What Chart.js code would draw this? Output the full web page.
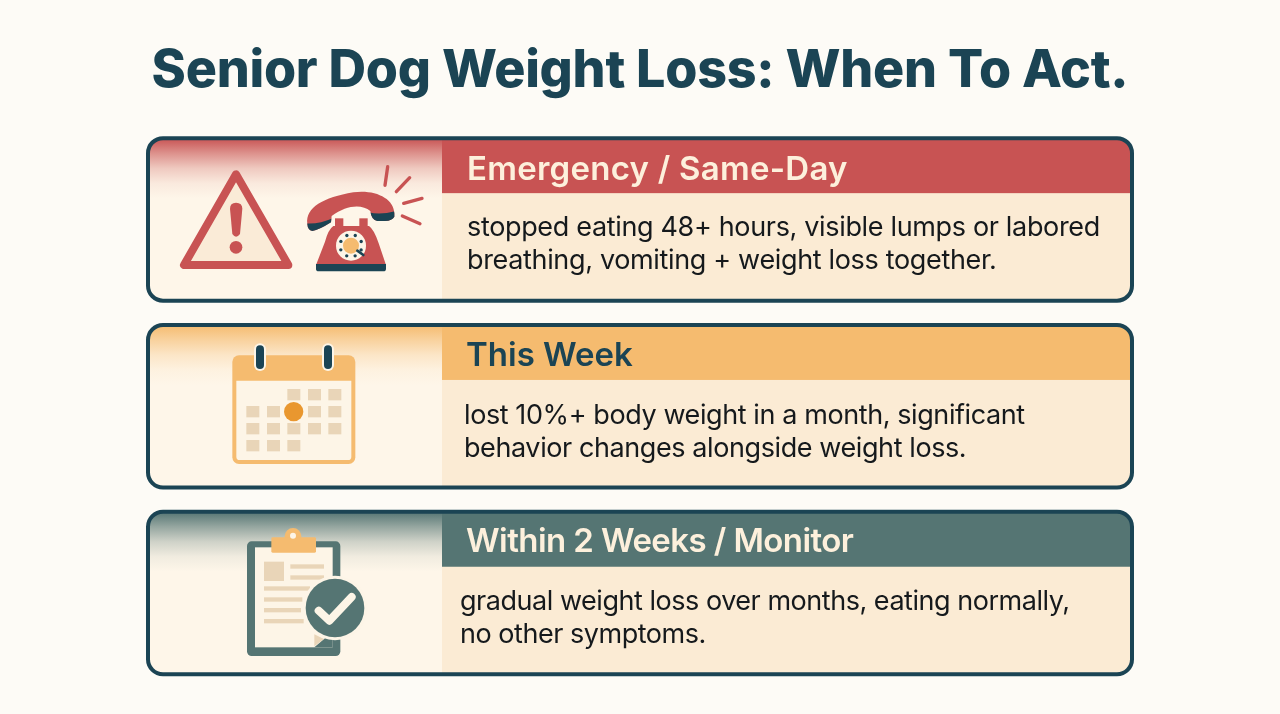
<!DOCTYPE html>
<html>
<head>
<meta charset="utf-8">
<title>Senior Dog Weight Loss</title>
<style>
  html, body { margin: 0; padding: 0; background: #fdfbf6; }
  canvas { display: block; }
</style>
<script src="https://cdn.jsdelivr.net/npm/chart.js@4/dist/chart.umd.min.js"></script>
</head>
<body>
<canvas id="chart" width="1280" height="714"></canvas>
<script>
const chartTitle = "Senior Dog Weight Loss: When To Act.";
const cardTitles = ["Emergency / Same-Day", "This Week", "Within 2 Weeks / Monitor"];
const cardLinesOne = [
  "stopped eating 48+ hours, visible lumps or labored",
  "lost 10%+ body weight in a month, significant",
  "gradual weight loss over months, eating normally,"
];
const cardLinesTwo = [
  "breathing, vomiting + weight loss together.",
  "behavior changes alongside weight loss.",
  "no other symptoms."
];
const iconPanelSpan = [[148, 442], [148, 442], [148, 442]];
const textPanelSpan = [[442, 1132], [442, 1132], [442, 1132]];

const INK = "#1b4454";
const RED = "#c85353";
const ORANGE = "#f5bb6f";
const TEAL = "#557573";
const CREAM = "#fdf5e7";
const TAN = "#e9d5b8";
const bandColors = [RED, ORANGE, TEAL];
const bandRgb = ["200,83,83", "245,187,111", "85,117,115"];
const titleColors = ["#fdf0dc", INK, "#fdf0dc"];
const titleX = [467, 466, 466];
const titleDrop = [31.5, 31, 30];
const titleTrack = ["0.25px", "0px", "-0.58px"];
const bodyX = [467, 464, 460];
const bodyTrack = ["-0.34px", "-0.41px", "-0.47px"];
const bodyDrop = [8.5, 10, 8.5];

function roundRect(c, x, y, w, h, r) {
  c.beginPath();
  c.roundRect(x, y, w, h, r);
}

function drawLine(c, pts, width, color) {
  c.beginPath();
  c.moveTo(pts[0], pts[1]);
  for (let i = 2; i < pts.length; i += 2) c.lineTo(pts[i], pts[i + 1]);
  c.lineWidth = width;
  c.strokeStyle = color;
  c.lineCap = "round";
  c.lineJoin = "round";
  c.stroke();
}

function drawCircle(c, x, y, r, color) {
  c.beginPath();
  c.arc(x, y, r, 0, Math.PI * 2);
  c.fillStyle = color;
  c.fill();
}

// icons are sketched in a 3x grid taken from a zoomed crop, hence the scale() calls
function drawWarning(c) {
  c.save();
  c.translate(140, 130);
  c.scale(1 / 3, 1 / 3);
  c.beginPath();
  c.moveTo(288, 133);
  c.lineTo(132, 405);
  c.lineTo(445, 405);
  c.closePath();
  c.fillStyle = "#faebd7";
  c.fill();
  c.lineWidth = 24;
  c.lineJoin = "round";
  c.strokeStyle = RED;
  c.stroke();
  c.beginPath();
  c.moveTo(270, 236);
  c.quadraticCurveTo(270, 218, 288, 218);
  c.quadraticCurveTo(307, 218, 307, 236);
  c.lineTo(300, 312);
  c.quadraticCurveTo(288, 328, 277, 312);
  c.closePath();
  c.fillStyle = RED;
  c.fill();
  drawCircle(c, 288, 352, 19, RED);
  c.restore();
}

function drawPhone(c) {
  c.save();
  c.translate(140, 130);
  c.scale(1 / 3, 1 / 3);
  // handset
  c.beginPath();
  c.moveTo(502, 282);
  c.bezierCurveTo(496, 232, 550, 203, 640, 187);
  c.bezierCurveTo(705, 178, 762, 205, 763, 250);
  c.lineTo(763, 260);
  c.quadraticCurveTo(757, 272, 735, 273);
  c.lineTo(712, 273);
  c.quadraticCurveTo(694, 270, 691, 243);
  c.bezierCurveTo(665, 222, 620, 225, 575, 258);
  c.lineTo(573, 277);
  c.quadraticCurveTo(537, 300, 517, 303);
  c.quadraticCurveTo(503, 300, 502, 282);
  c.closePath();
  c.fillStyle = RED;
  c.fill();
  // dark ear and mouth pieces
  c.save();
  c.clip();
  c.fillStyle = INK;
  c.beginPath();
  c.moveTo(685, 247);
  c.quadraticCurveTo(725, 256, 770, 242);
  c.lineTo(770, 280);
  c.lineTo(685, 280);
  c.closePath();
  c.fill();
  c.beginPath();
  c.moveTo(495, 280);
  c.quadraticCurveTo(535, 284, 580, 264);
  c.lineTo(580, 310);
  c.lineTo(495, 310);
  c.closePath();
  c.fill();
  c.restore();
  // cradle and body
  c.fillStyle = RED;
  c.fillRect(585, 265, 25, 30);
  c.fillRect(658, 265, 25, 30);
  c.beginPath();
  c.moveTo(580, 288);
  c.lineTo(687, 288);
  c.quadraticCurveTo(702, 298, 716, 340);
  c.lineTo(738, 405);
  c.lineTo(528, 405);
  c.lineTo(555, 335);
  c.quadraticCurveTo(565, 298, 580, 288);
  c.closePath();
  c.fill();
  c.fillStyle = INK;
  roundRect(c, 528, 402, 210, 22, [0, 0, 8, 8]);
  c.fill();
  // dial
  drawCircle(c, 633, 347, 45, CREAM);
  drawCircle(c, 633, 347, 24, ORANGE);
  for (let a = 0; a < 8; a++) {
    const ang = a * Math.PI / 4 + 0.4;
    drawCircle(c, 633 + 33 * Math.cos(ang), 347 + 33 * Math.sin(ang), 5, INK);
  }
  drawLine(c, [652, 362, 670, 375], 8, INK);
  // ringing marks
  drawLine(c, [743, 110, 735, 166], 10, RED);
  drawLine(c, [809, 143, 769, 185], 10, RED);
  drawLine(c, [846, 205, 791, 220], 10, RED);
  drawLine(c, [787, 258, 840, 281], 10, RED);
  c.restore();
}

const calendarRows = [[2, 3, 4], [0, 1, 3, 4], [0, 1, 2, 3, 4], [0, 1, 2]];

function drawCalendar(c) {
  c.save();
  c.translate(140, 318);
  c.scale(1 / 3, 1 / 3);
  c.fillStyle = ORANGE;
  roundRect(c, 277, 112, 369, 326, 20);
  c.fill();
  c.fillStyle = CREAM;
  roundRect(c, 289, 188, 345, 238, [0, 0, 10, 10]);
  c.fill();
  [360, 564].forEach(x => {
    drawLine(c, [x, 94, x, 141], 36, CREAM);
    drawLine(c, [x, 94, x, 141], 24, INK);
  });
  const colX = [319, 381, 442, 504, 565];
  const rowY = [213, 264, 315, 366];
  c.fillStyle = TAN;
  calendarRows.forEach((row, r) => {
    row.forEach(col => c.fillRect(colX[col], rowY[r], 39, 34));
  });
  drawCircle(c, 461, 281, 29, "#e9972f");
  c.restore();
}

function drawClipboard(c) {
  c.save();
  c.translate(140, 505);
  c.scale(1 / 3, 1 / 3);
  c.fillStyle = TEAL;
  roundRect(c, 321, 109, 280, 344, 14);
  c.fill();
  c.fillStyle = CREAM;
  c.fillRect(345, 127, 233, 300);
  c.fillStyle = TEAL;
  c.beginPath();
  c.moveTo(578, 380);
  c.lineTo(578, 427);
  c.lineTo(523, 427);
  c.closePath();
  c.fill();
  // page corner fold
  c.fillStyle = TAN;
  c.beginPath();
  c.moveTo(523, 388);
  c.lineTo(523, 424);
  c.lineTo(552, 402);
  c.closePath();
  c.fill();
  // clip
  drawCircle(c, 459, 94, 25, ORANGE);
  c.fillStyle = ORANGE;
  roundRect(c, 394, 97, 134, 46, 4);
  c.fill();
  drawCircle(c, 459, 92, 9, CREAM);
  // text rows
  c.fillStyle = TAN;
  c.fillRect(372, 170, 60, 58);
  [[451, 178, 101], [451, 211, 101], [372, 244, 138], [372, 277, 115], [372, 309, 111], [372, 342, 119]].forEach(l => {
    c.fillRect(l[0], l[1], l[2], 13);
  });
  // check badge
  drawCircle(c, 585, 309, 97, CREAM);
  drawCircle(c, 585, 309, 88, TEAL);
  drawLine(c, [536, 317, 568, 347, 635, 276], 24, CREAM);
  c.restore();
}

const cardIcons = [c => { drawWarning(c); drawPhone(c); }, drawCalendar, drawClipboard];

const cardDecor = {
  id: "cardDecor",
  beforeDraw(chart) {
    // picked up by the title box, which is drawn before the datasets
    chart.ctx.letterSpacing = "-0.25px";
  },
  afterDatasetsDraw(chart) {
    const c = chart.ctx;
    const meta = chart.getDatasetMeta(1);
    meta.data.forEach((bar, i) => {
      const p = bar.getProps(["x", "y", "base", "height"], true);
      const top = p.y - p.height / 2;
      const right = p.x;
      const split = p.base;
      const left = chart.getDatasetMeta(0).data[i].getProps(["base"], true).base;
      c.save();
      roundRect(c, left, top, right - left, p.height, 15);
      c.clip();
      // colour fading down the icon panel
      const fade = c.createLinearGradient(0, top, 0, top + 60);
      fade.addColorStop(0, "rgba(" + bandRgb[i] + ",1)");
      fade.addColorStop(0.25, "rgba(" + bandRgb[i] + ",0.62)");
      fade.addColorStop(0.5, "rgba(" + bandRgb[i] + ",0.28)");
      fade.addColorStop(0.75, "rgba(" + bandRgb[i] + ",0.08)");
      fade.addColorStop(1, "rgba(" + bandRgb[i] + ",0)");
      c.fillStyle = fade;
      c.fillRect(left, top, split - left, 60);
      c.fillStyle = bandColors[i];
      c.fillRect(split, top, right - split, 55);
      c.restore();

      roundRect(c, left, top, right - left, p.height, 15);
      c.lineWidth = 4;
      c.strokeStyle = INK;
      c.stroke();

      c.textBaseline = "middle";
      c.textAlign = "left";
      c.fillStyle = titleColors[i];
      c.font = "600 33px Inter";
      c.letterSpacing = titleTrack[i];
      c.fillText(cardTitles[i], titleX[i], top + titleDrop[i]);
      c.fillStyle = "#15191c";
      c.font = "400 27px Inter";
      c.letterSpacing = bodyTrack[i];
      c.fillText(cardLinesOne[i], bodyX[i], p.y + bodyDrop[i]);
      c.fillText(cardLinesTwo[i], bodyX[i], p.y + bodyDrop[i] + 33);
      c.letterSpacing = "0px";
      cardIcons[i](c);
    });
  }
};

new Chart(document.getElementById("chart"), {
  type: "bar",
  data: {
    labels: cardTitles,
    datasets: [
      {
        label: "icon panel",
        data: iconPanelSpan,
        backgroundColor: "#fef6e9",
        borderRadius: { topLeft: 15, bottomLeft: 15, topRight: 0, bottomRight: 0 },
        borderSkipped: false
      },
      {
        label: "text panel",
        data: textPanelSpan,
        backgroundColor: "#fbebd4",
        borderRadius: { topLeft: 0, bottomLeft: 0, topRight: 15, bottomRight: 15 },
        borderSkipped: false
      }
    ]
  },
  options: {
    indexAxis: "y",
    responsive: false,
    animation: false,
    grouped: false,
    barPercentage: 0.87,
    categoryPercentage: 1,
    layout: { padding: { bottom: 27.6 } },
    scales: {
      x: { type: "linear", min: 0, max: 1280, display: false },
      y: { type: "category", display: false }
    },
    plugins: {
      legend: { display: false },
      tooltip: { enabled: false },
      title: {
        display: true,
        text: chartTitle,
        color: INK,
        font: { family: "Inter", size: 52, weight: "800", lineHeight: 1.2 },
        padding: { top: 39.8, bottom: 23.8 }
      }
    }
  },
  plugins: [cardDecor]
});
</script>
</body>
</html>
